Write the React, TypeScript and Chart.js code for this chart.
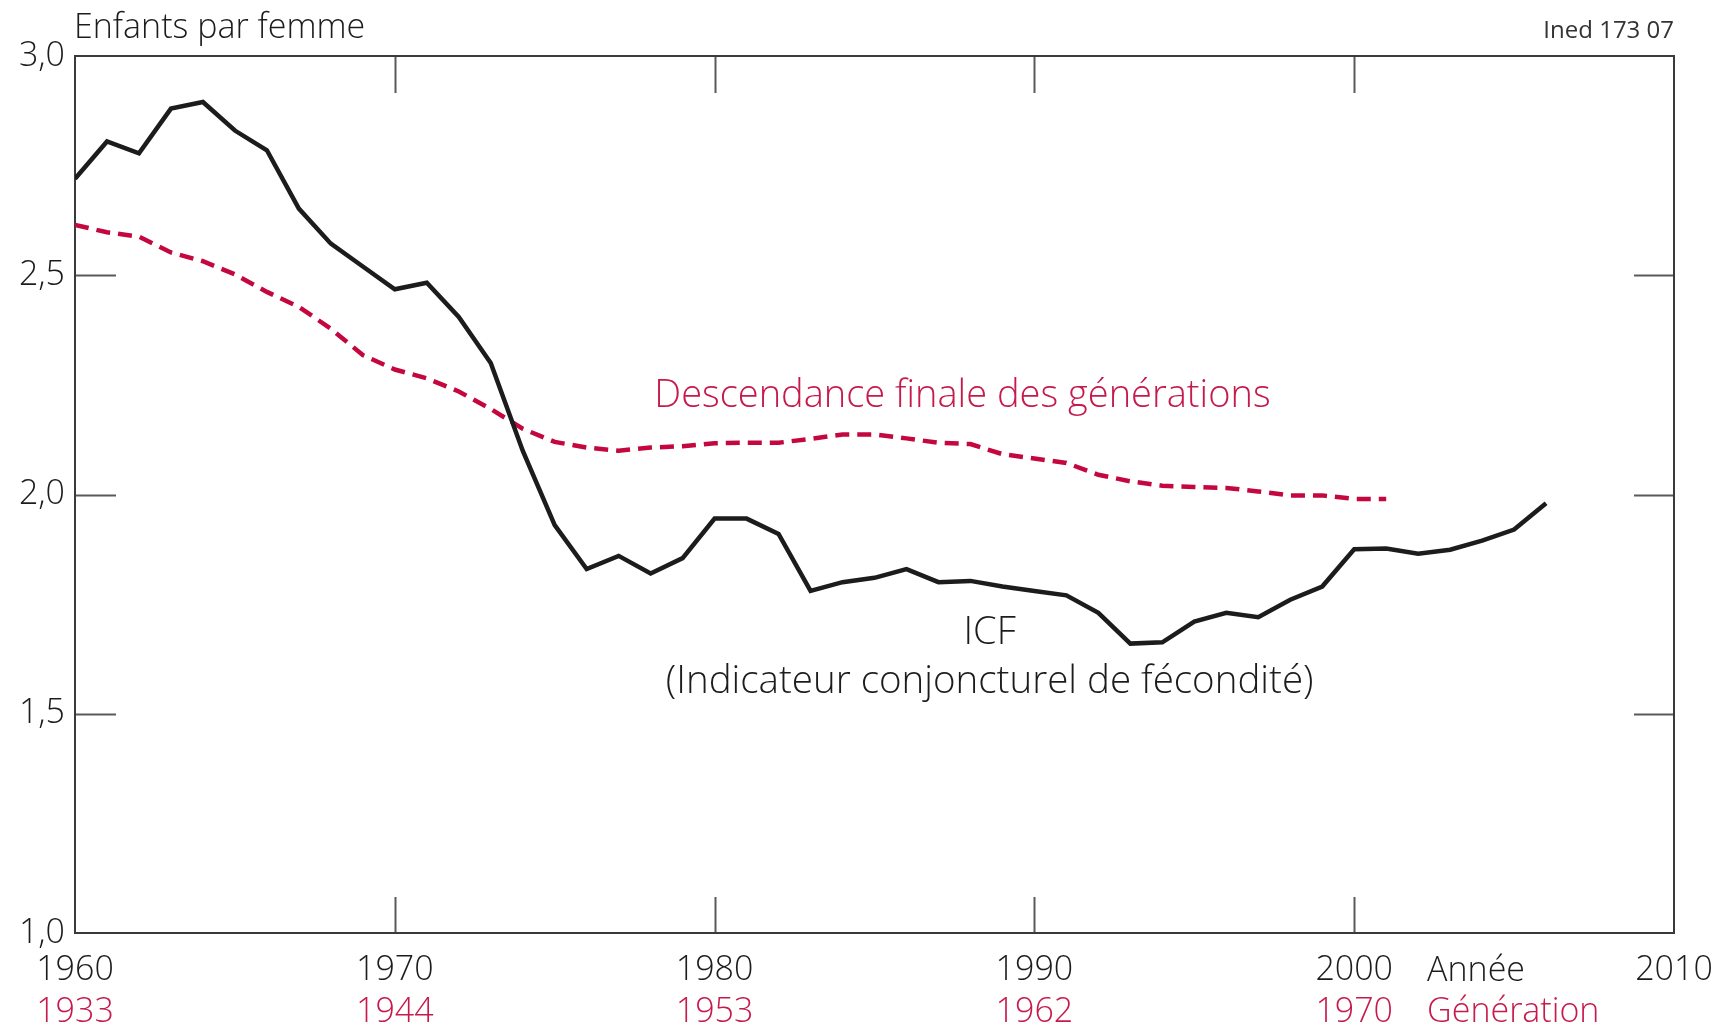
import React, { useEffect, useRef } from 'react';
import { Chart, registerables } from 'chart.js';

Chart.register(...registerables);

// ---- Data ----
const icfYears = [
  1960, 1961, 1962, 1963, 1964, 1965, 1966, 1967, 1968, 1969,
  1970, 1971, 1972, 1973, 1974, 1975, 1976, 1977, 1978, 1979,
  1980, 1981, 1982, 1983, 1984, 1985, 1986, 1987, 1988, 1989,
  1990, 1991, 1992, 1993, 1994, 1995, 1996, 1997, 1998, 1999,
  2000, 2001, 2002, 2003, 2004, 2005, 2006,
];
const icfValues = [
  2.72, 2.805, 2.778, 2.88, 2.895, 2.83, 2.785, 2.652, 2.572, 2.52,
  2.468, 2.483, 2.405, 2.30, 2.10, 1.93, 1.83, 1.86, 1.82, 1.855,
  1.945, 1.945, 1.91, 1.78, 1.80, 1.81, 1.83, 1.80, 1.803, 1.79,
  1.78, 1.77, 1.73, 1.66, 1.663, 1.71, 1.73, 1.72, 1.76, 1.79,
  1.875, 1.877, 1.865, 1.874, 1.895, 1.92, 1.98,
];
const dfYears = [
  1960, 1961, 1962, 1963, 1964, 1965, 1966, 1967, 1968, 1969,
  1970, 1971, 1972, 1973, 1974, 1975, 1976, 1977, 1978, 1979,
  1980, 1981, 1982, 1983, 1984, 1985, 1986, 1987, 1988, 1989,
  1990, 1991, 1992, 1993, 1994, 1995, 1996, 1997, 1998, 1999,
  2000, 2001,
];
const dfValues = [
  2.615, 2.598, 2.588, 2.552, 2.532, 2.502, 2.462, 2.428, 2.378, 2.318,
  2.285, 2.265, 2.235, 2.195, 2.15, 2.12, 2.107, 2.10, 2.107, 2.11,
  2.117, 2.118, 2.118, 2.127, 2.137, 2.137, 2.128, 2.118, 2.115, 2.092,
  2.082, 2.072, 2.045, 2.03, 2.02, 2.017, 2.015, 2.007, 1.998, 1.998,
  1.99, 1.99,
];
const yearTicks = [1960, 1970, 1980, 1990, 2000, 2010];
const yearLabels = ['1960', '1970', '1980', '1990', '2000', '2010'];
const generationLabels = ['1933', '1944', '1953', '1962', '1970', ''];
const yTicks = [1.0, 1.5, 2.0, 2.5, 3.0];
const yLabels = ['1,0', '1,5', '2,0', '2,5', '3,0'];

const FONT = '"Open Sans", "Noto Sans", sans-serif';
const BLACK = '#1c1c1c';
const RED = '#c4073f';
const RED_TEXT = '#c61a4c';

const decorPlugin = {
  id: 'decor',
  beforeDatasetsDraw(chart: any) {
    const { ctx, chartArea } = chart;
    const xs = chart.scales.x;
    const ys = chart.scales.y;
    ctx.save();
    ctx.strokeStyle = '#5a5a5a';
    ctx.lineWidth = 2;
    ctx.beginPath();
    yearTicks.slice(1, -1).forEach((v) => {
      const px = Math.round(xs.getPixelForValue(v)) + 0.5;
      ctx.moveTo(px, chartArea.top);
      ctx.lineTo(px, chartArea.top + 37);
      ctx.moveTo(px, chartArea.bottom);
      ctx.lineTo(px, chartArea.bottom - 36);
    });
    yTicks.slice(1, -1).forEach((v) => {
      const py = Math.round(ys.getPixelForValue(v)) + 0.5;
      ctx.moveTo(chartArea.left, py);
      ctx.lineTo(chartArea.left + 41, py);
      ctx.moveTo(chartArea.right, py);
      ctx.lineTo(chartArea.right - 40, py);
    });
    ctx.stroke();
    ctx.strokeStyle = '#3a3a3a';
    ctx.lineWidth = 2;
    ctx.strokeRect(chartArea.left, chartArea.top, chartArea.right - chartArea.left, chartArea.bottom - chartArea.top);
    ctx.restore();
  },
  afterDraw(chart: any) {
    const { ctx, chartArea } = chart;
    const xs = chart.scales.x;
    const ys = chart.scales.y;
    const gs = chart.scales.gen;
    ctx.save();
    ctx.textBaseline = 'middle';

    ctx.font = `300 34px ${FONT}`;
    ctx.fillStyle = BLACK;
    ctx.textAlign = 'left';
    ctx.fillText('Enfants par femme', chartArea.left - 1, 28);

    ctx.font = `24px ${FONT}`;
    ctx.fillStyle = '#333';
    ctx.textAlign = 'right';
    ctx.fillText('Ined 173 07', chartArea.right, 31);

    ctx.font = `300 38px ${FONT}`;
    ctx.textAlign = 'center';
    ctx.fillStyle = RED_TEXT;
    ctx.fillText('Descendance finale des générations', xs.getPixelForValue(1987.75), ys.getPixelForValue(2.225));
    ctx.fillStyle = BLACK;
    ctx.fillText('ICF', xs.getPixelForValue(1988.6), ys.getPixelForValue(1.684));
    ctx.font = `300 38.5px ${FONT}`;
    ctx.fillText('(Indicateur conjoncturel de fécondité)', xs.getPixelForValue(1988.6), ys.getPixelForValue(1.572));

    ctx.font = `300 34px ${FONT}`;
    ctx.textAlign = 'left';
    ctx.fillStyle = BLACK;
    ctx.fillText('Année', xs.getPixelForValue(2002.28), xs.top + 38);
    ctx.fillStyle = RED_TEXT;
    ctx.fillText('Génération', xs.getPixelForValue(2002.28), gs.top + 23);
    ctx.restore();
  },
};

export default function App() {
  const ref = useRef<HTMLCanvasElement | null>(null);
  useEffect(() => {
    if (!ref.current) return;
    const tickFont = { family: FONT, size: 34, weight: '300' as any, lineHeight: 1.2 };
    const chart = new Chart(ref.current, {
      type: 'line',
      data: {
        datasets: [
          {
            label: 'ICF',
            data: icfYears.map((x, i) => ({ x, y: icfValues[i] })),
            borderColor: BLACK,
            borderWidth: 4.5,
            pointRadius: 0,
            tension: 0,
            fill: false,
          },
          {
            label: 'Descendance finale des générations',
            data: dfYears.map((x, i) => ({ x, y: dfValues[i] })),
            borderColor: RED,
            borderWidth: 4.5,
            borderDash: [14, 8],
            borderCapStyle: 'butt',
            pointRadius: 0,
            tension: 0,
            fill: false,
          },
        ],
      },
      options: {
        animation: false,
        responsive: false,
        maintainAspectRatio: false,
        layout: { padding: { top: 56, right: 50, left: 0, bottom: 0 } },
        plugins: { legend: { display: false }, tooltip: { enabled: false } },
        scales: {
          x: {
            type: 'linear',
            position: 'bottom',
            weight: 0,
            min: 1960,
            max: 2010,
            afterBuildTicks: (s: any) => {
              s.ticks = yearTicks.map((v) => ({ value: v }));
            },
            afterFit: (s: any) => {
              s.height = 56;
              s.paddingLeft = 0;
              s.paddingRight = 0;
            },
            ticks: {
              autoSkip: false,
              maxRotation: 0,
              padding: 17,
              color: BLACK,
              font: tickFont,
              callback: (v: any) => {
                const i = yearTicks.indexOf(Number(v));
                return i >= 0 ? yearLabels[i] : '';
              },
            },
            grid: { display: false, drawTicks: false },
            border: { display: false },
          },
          gen: {
            type: 'linear',
            position: 'bottom',
            weight: 1,
            min: 1960,
            max: 2010,
            afterBuildTicks: (s: any) => {
              s.ticks = yearTicks.map((v) => ({ value: v }));
            },
            afterFit: (s: any) => {
              s.height = 40;
              s.paddingLeft = 0;
              s.paddingRight = 0;
            },
            ticks: {
              autoSkip: false,
              maxRotation: 0,
              padding: 3,
              color: RED_TEXT,
              font: tickFont,
              callback: (v: any) => {
                const i = yearTicks.indexOf(Number(v));
                return i >= 0 ? generationLabels[i] : '';
              },
            },
            grid: { display: false, drawTicks: false },
            border: { display: false },
          },
          y: {
            type: 'linear',
            position: 'left',
            min: 1,
            max: 3,
            afterBuildTicks: (s: any) => {
              s.ticks = yTicks.map((v) => ({ value: v }));
            },
            afterFit: (s: any) => {
              s.width = 75;
              s.paddingTop = 0;
              s.paddingBottom = 0;
            },
            ticks: {
              padding: 10,
              color: BLACK,
              font: tickFont,
              callback: (v: any) => {
                const i = yTicks.findIndex((t) => Math.abs(t - Number(v)) < 1e-6);
                return i >= 0 ? yLabels[i] : '';
              },
            },
            grid: { display: false, drawTicks: false },
            border: { display: false },
          },
        },
      },
      plugins: [decorPlugin],
    });
    return () => chart.destroy();
  }, []);

  return (
    <div style={{ position: 'fixed', left: 0, top: 0, width: 1724, height: 1029, background: '#fff' }}>
      <canvas ref={ref} width={1724} height={1029} style={{ width: 1724, height: 1029, display: 'block' }} />
    </div>
  );
}
